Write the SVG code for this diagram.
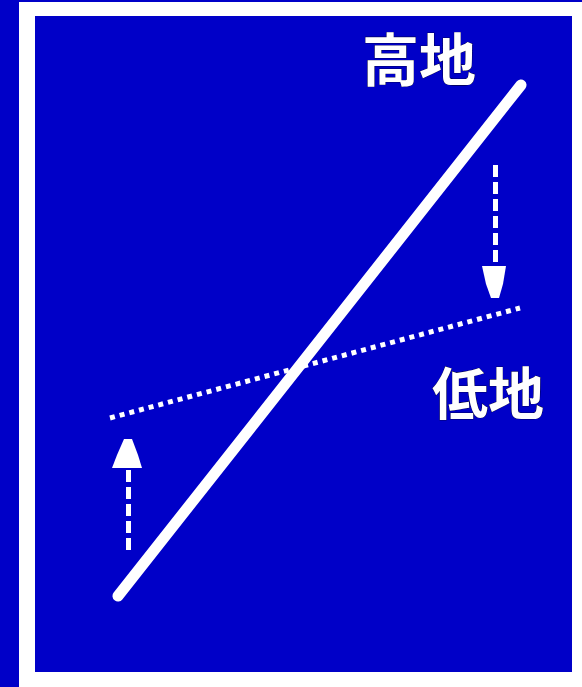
<svg xmlns="http://www.w3.org/2000/svg" width="582" height="687" viewBox="0 0 582 687">
<style>
.lbl{font-family:"Noto Sans CJK JP","Noto Sans CJK SC",sans-serif;font-weight:bold;fill:#fff;stroke:#000;stroke-width:0.6;paint-order:stroke}
.dash{stroke:#fff;stroke-width:5;fill:none;stroke-dasharray:12 5}
</style>
<rect width="582" height="687" fill="#0000c8"/>
<rect x="19" y="2" width="563" height="685" fill="#fff"/>
<rect x="35" y="16" width="537" height="656" fill="#0000c8"/>
<g id="connectors">
<line x1="118" y1="596" x2="521" y2="85" stroke="#fff" stroke-width="11" stroke-linecap="round"/>
<line x1="110" y1="418" x2="520" y2="308" stroke="#fff" stroke-width="5" stroke-dasharray="5 5"/>
<line class="dash" x1="495.5" y1="165" x2="495.5" y2="268"/>
<path d="M482 266 L506 266 L503 284 L499 298 L491 298 L486 284 Z" fill="#fff"/>
<line class="dash" x1="128.5" y1="550" x2="128.5" y2="468"/>
<path d="M112 468 L142 468 L138 455 L132 439 L124 439 L117 455 Z" fill="#fff"/>
</g>
<g id="high"><text class="lbl" x="362" y="81" font-size="57">高地</text></g>
<g id="low"><text class="lbl" x="432" y="414" font-size="56">低地</text></g>
</svg>
